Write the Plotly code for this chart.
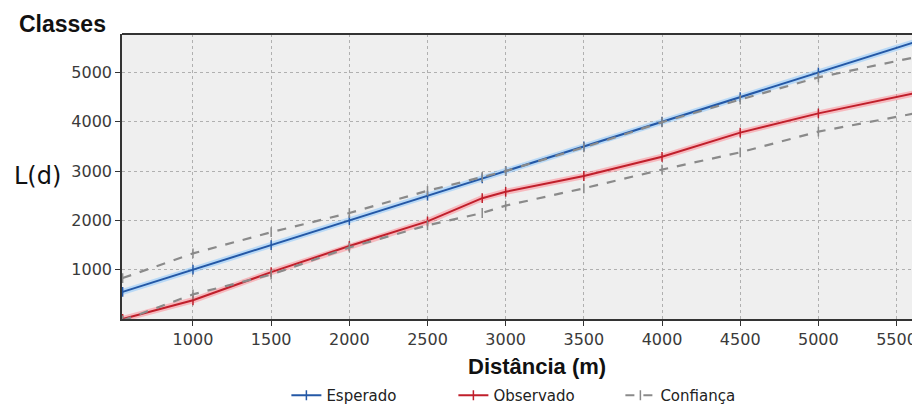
import plotly.graph_objects as go

# Data
dist = [550, 1000, 1500, 2000, 2500, 2850, 3000, 3500, 4000, 4500, 5000, 5650]
esperado = [550, 1000, 1500, 2000, 2500, 2850, 3000, 3500, 4000, 4500, 5000, 5650]
observado = [0, 380, 950, 1480, 1980, 2450, 2580, 2900, 3290, 3780, 4170, 4600]
conf_sup = [830, 1330, 1760, 2150, 2600, 2880, 3000, 3480, 3990, 4450, 4900, 5330]
conf_inf = [-30, 500, 900, 1450, 1900, 2150, 2300, 2650, 3030, 3380, 3800, 4190]

x_ticks = [1000, 1500, 2000, 2500, 3000, 3500, 4000, 4500, 5000, 5500]
y_ticks = [1000, 2000, 3000, 4000, 5000]

fig = go.Figure()

# glow layers
fig.add_trace(go.Scatter(x=dist, y=esperado, mode="lines", line=dict(color="rgba(120,190,255,0.45)", width=6),
                         showlegend=False, hoverinfo="skip"))
fig.add_trace(go.Scatter(x=dist, y=observado, mode="lines", line=dict(color="rgba(255,120,130,0.45)", width=6),
                         showlegend=False, hoverinfo="skip"))

fig.add_trace(go.Scatter(x=dist, y=esperado, name="Esperado", mode="lines+markers",
                         line=dict(color="#2458a6", width=2),
                         marker=dict(symbol="line-ns-open", size=7, line=dict(color="#2458a6", width=1.5))))
fig.add_trace(go.Scatter(x=dist, y=observado, name="Observado", mode="lines+markers",
                         line=dict(color="#c01f2b", width=2),
                         marker=dict(symbol="line-ns-open", size=7, line=dict(color="#c01f2b", width=1.5))))
fig.add_trace(go.Scatter(x=dist, y=conf_sup, name="Confiança", mode="lines+markers",
                         line=dict(color="#8a8a8a", width=2.2, dash="dash"),
                         marker=dict(symbol="line-ns-open", size=7, line=dict(color="#8a8a8a", width=1.5)),
                         legendgroup="conf"))
fig.add_trace(go.Scatter(x=dist, y=conf_inf, name="Confiança", mode="lines+markers",
                         line=dict(color="#8a8a8a", width=2.2, dash="dash"),
                         marker=dict(symbol="line-ns-open", size=7, line=dict(color="#8a8a8a", width=1.5)),
                         legendgroup="conf", showlegend=False))

fig.update_layout(
    width=912, height=404,
    margin=dict(l=114, r=0, t=26, b=89),
    paper_bgcolor="white",
    plot_bgcolor="#efefef",
    font=dict(family="DejaVu Sans, Verdana, sans-serif", size=16, color="#333333"),
    legend=dict(orientation="h", x=0.206, y=-0.27, xanchor="left", yanchor="middle",
                font=dict(size=15, color="#222222"), entrywidth=122, entrywidthmode="pixels",
                bgcolor="rgba(0,0,0,0)"),
    xaxis=dict(range=[546, 5650], tickvals=x_ticks, ticktext=[str(v) for v in x_ticks],
               showgrid=True, gridcolor="#b0b0b0", griddash="dot", gridwidth=1,
               showline=True, linecolor="#333333", linewidth=1.5,
               ticks="outside", ticklen=5, tickcolor="#333333",
               zeroline=False, tickfont=dict(size=16, color="#3a3a3a")),
    yaxis=dict(range=[0, 5780], tickvals=y_ticks, ticktext=[str(v) for v in y_ticks],
               showgrid=True, gridcolor="#b0b0b0", griddash="dot", gridwidth=1,
               showline=True, linecolor="#333333", linewidth=1.5,
               ticks="outside", ticklen=5, tickcolor="#333333",
               zeroline=False, tickfont=dict(size=16, color="#3a3a3a")),
    shapes=[dict(type="line", xref="paper", yref="paper", x0=0, x1=1, y0=1, y1=1,
                 line=dict(color="#333333", width=2))],
    annotations=[
        dict(text="<b>Classes</b>", xref="paper", yref="paper", x=-0.131, y=1.035,
             xanchor="left", yanchor="middle", showarrow=False,
             font=dict(family="Liberation Sans, Arial, sans-serif", size=23, color="#111111")),
        dict(text="L(d)", xref="paper", yref="paper", x=-0.138, y=0.502,
             xanchor="left", yanchor="middle", showarrow=False,
             font=dict(family="DejaVu Sans, Verdana, sans-serif", size=24, color="#111111")),
        dict(text="<b>Distância (m)</b>", xref="paper", yref="paper", x=0.52, y=-0.165,
             xanchor="center", yanchor="middle", showarrow=False,
             font=dict(family="Liberation Sans, Arial, sans-serif", size=22, color="#111111")),
    ],
)

fig.write_html("out.html")
